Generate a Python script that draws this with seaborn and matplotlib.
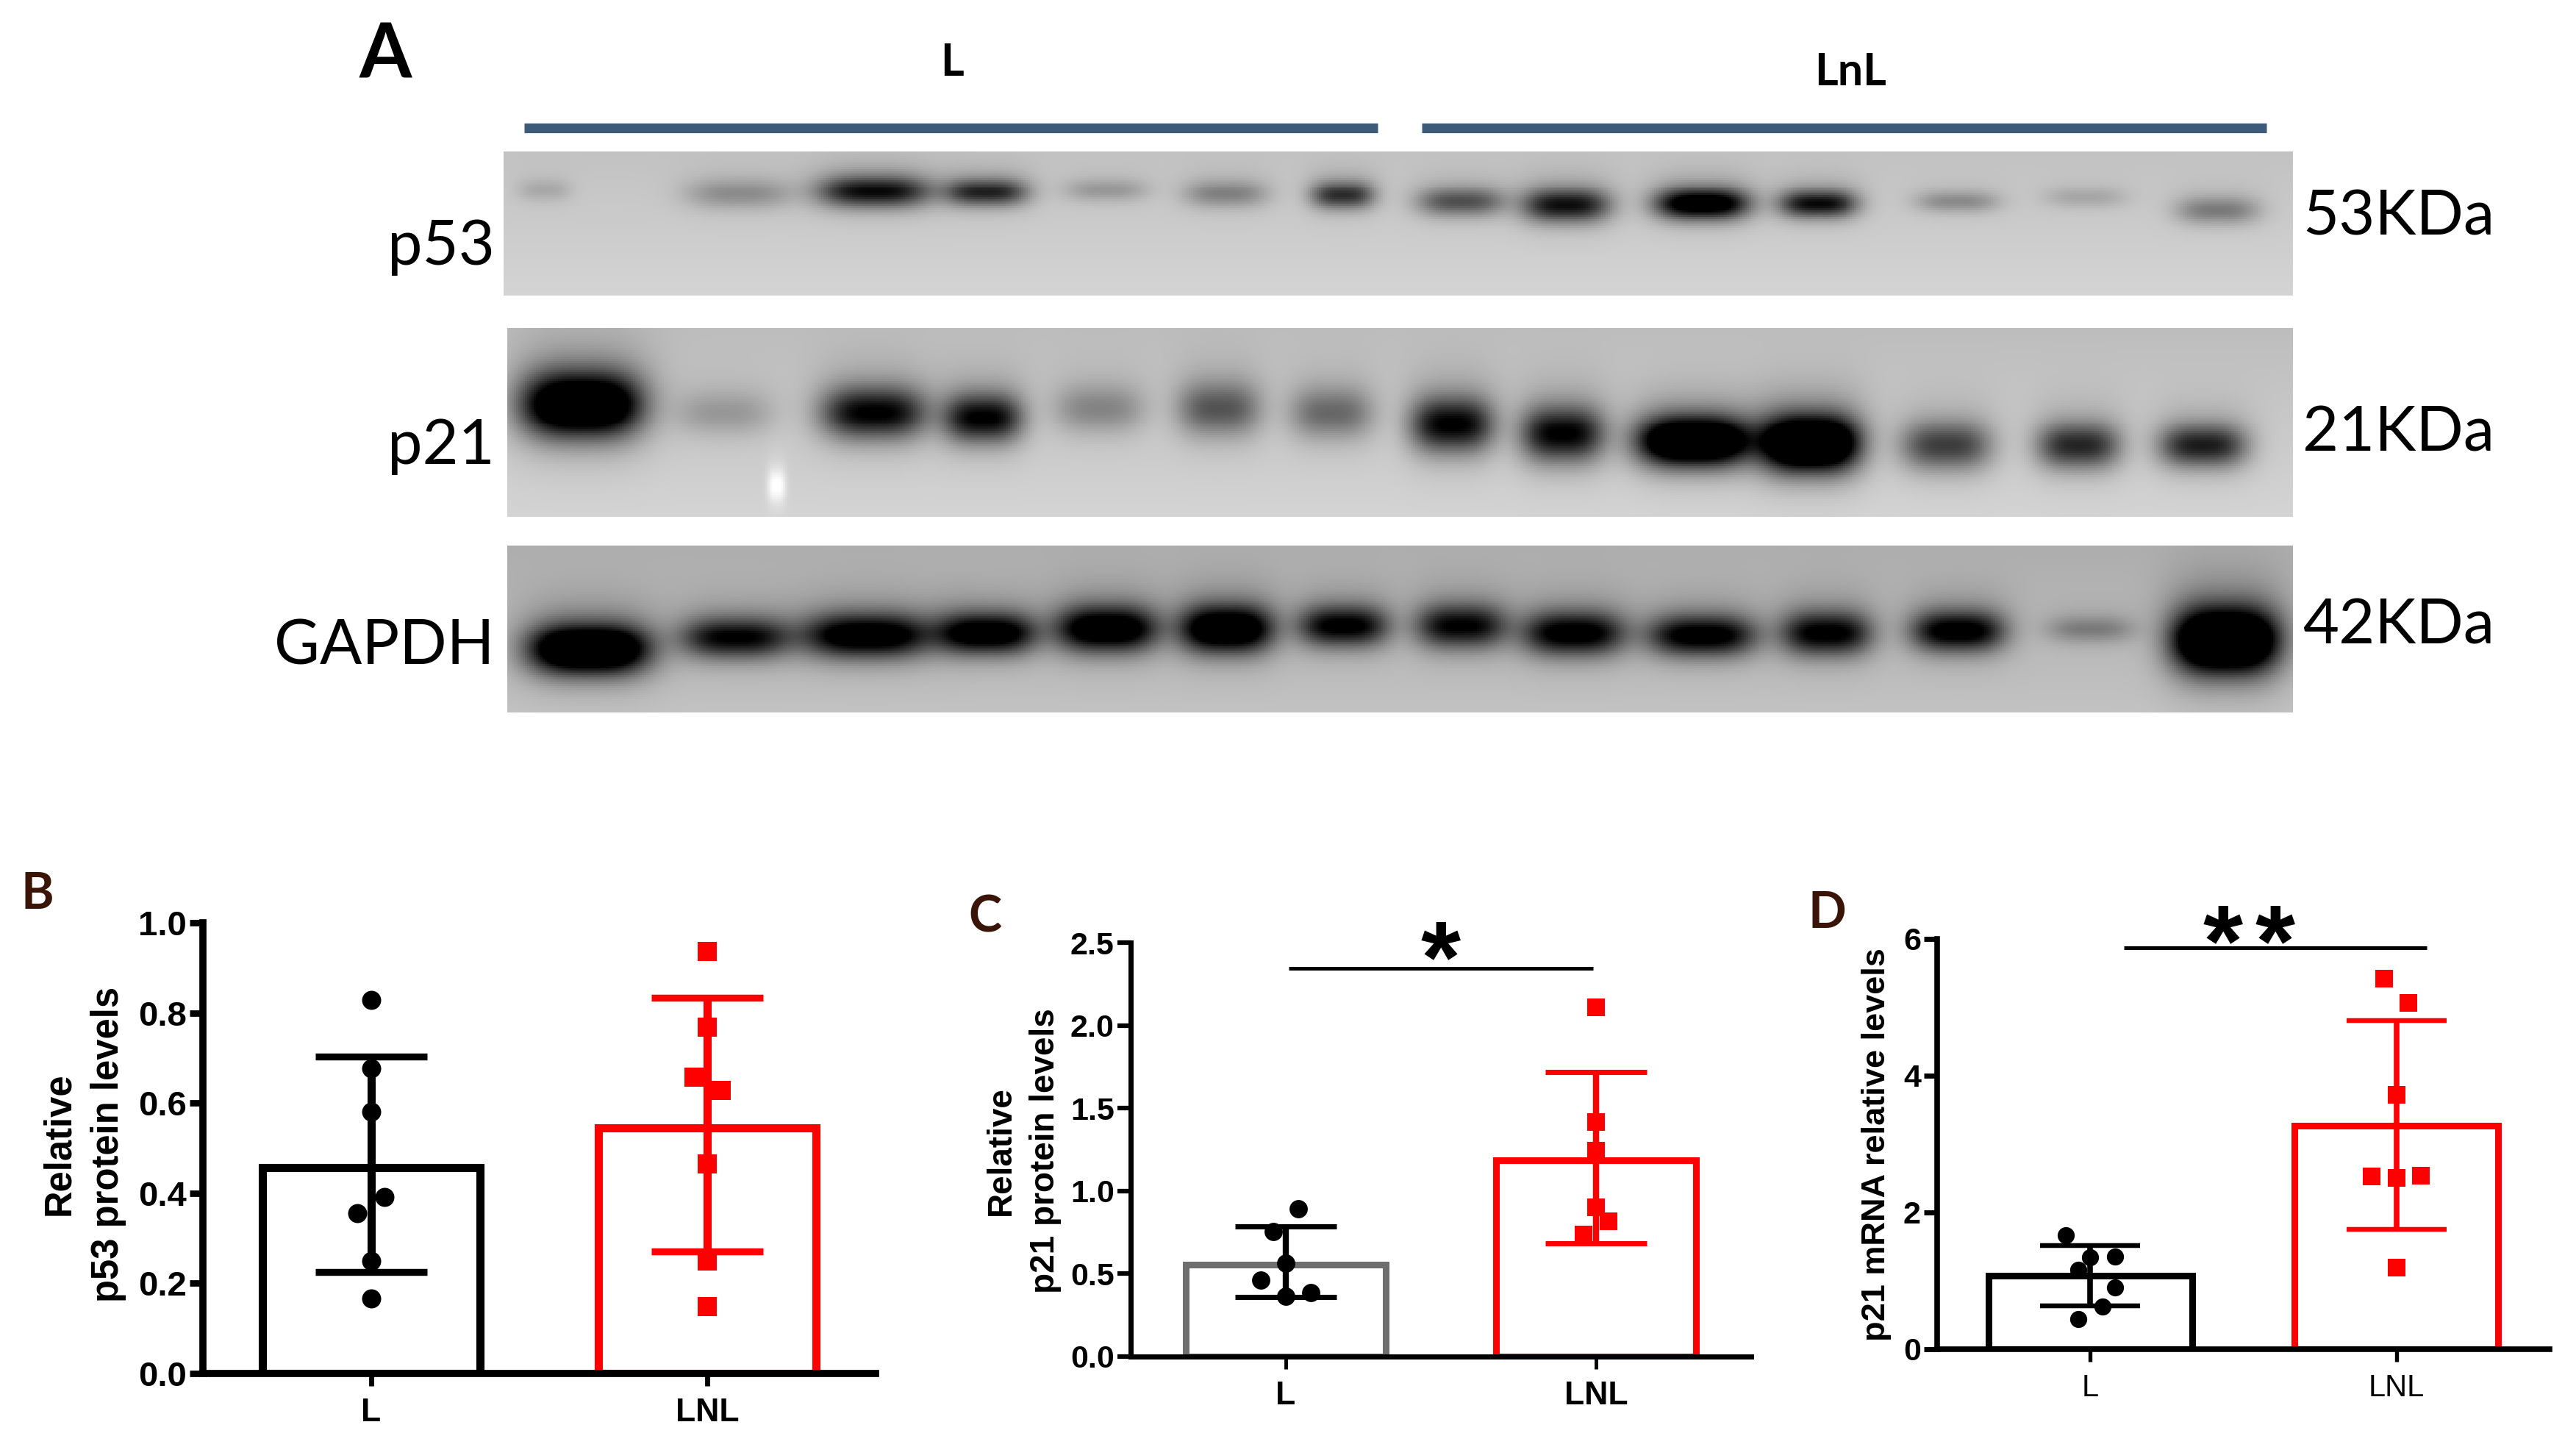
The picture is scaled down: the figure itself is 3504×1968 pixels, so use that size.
import numpy as np
import pandas as pd
import matplotlib
matplotlib.use('Agg')
import matplotlib.pyplot as plt
import seaborn as sns

W, H = 3505, 1968
DPI = 100

groups = ['L', 'LNL']

# panel B - p53 protein
b_l_vals = [0.828, 0.677, 0.58, 0.392, 0.355, 0.25, 0.166]
b_l_off = [0, 0, 0, 0.04, -0.04, 0, 0]
b_lnl_vals = [0.937, 0.769, 0.657, 0.628, 0.465, 0.25, 0.149]
b_lnl_off = [0, 0, -0.04, 0.04, 0, 0, 0]
b_means = [0.457, 0.545]
b_err_top = [0.703, 0.833]
b_err_bot = [0.225, 0.27]
b_ticks = [0.0, 0.2, 0.4, 0.6, 0.8, 1.0]

# panel C - p21 protein
c_l_vals = [0.894, 0.754, 0.564, 0.464, 0.364, 0.388]
c_l_off = [0.04, -0.04, 0, -0.08, 0, 0.08]
c_lnl_vals = [2.108, 1.416, 1.242, 0.90, 0.817, 0.736]
c_lnl_off = [0, 0, 0, 0, 0.04, -0.04]
c_means = [0.557, 1.186]
c_err_top = [0.787, 1.718]
c_err_bot = [0.36, 0.685]
c_ticks = [0.0, 0.5, 1.0, 1.5, 2.0, 2.5]

# panel D - p21 mRNA
d_l_vals = [1.67, 1.34, 1.35, 1.165, 0.90, 0.62, 0.44]
d_l_off = [-0.08, 0, 0.08, -0.04, 0.08, 0.04, -0.04]
d_lnl_vals = [5.42, 5.06, 3.72, 2.53, 2.51, 2.54, 1.19]
d_lnl_off = [-0.04, 0.04, 0, -0.08, 0, 0.08, 0]
d_means = [1.07, 3.266]
d_err_top = [1.513, 4.81]
d_err_bot = [0.633, 1.753]
d_ticks = [0, 2, 4, 6]

# western blot bands: lane centre, row, half width, half height, darkness (all in image pixels)
p53_x = [739, 1004, 1188, 1341, 1504, 1667, 1826, 1987, 2130, 2315, 2473, 2663, 2837, 3017]
p53_y = [258, 263, 260, 261, 258, 263, 265, 274, 279, 277, 277, 274, 268, 286]
p53_w = [35, 70, 75, 55, 55, 55, 42, 58, 58, 62, 52, 55, 55, 55]
p53_h = [15, 20, 21, 18, 15, 18, 18, 19, 22, 20, 18, 14, 14, 18]
p53_d = [0.13, 0.25, 0.8, 0.7, 0.2, 0.3, 0.65, 0.5, 0.78, 1.05, 0.8, 0.26, 0.14, 0.33]

p21_x = [790, 984, 1188, 1336, 1494, 1657, 1810, 1975, 2125, 2304, 2462, 2647, 2827, 2996, 1055]
p21_y = [550, 561, 561, 568, 555, 555, 561, 577, 590, 600, 603, 606, 606, 606, 660]
p21_w = [80, 65, 70, 52, 60, 55, 55, 55, 55, 75, 65, 60, 55, 58, 12]
p21_h = [42, 30, 34, 32, 32, 36, 34, 36, 36, 32, 36, 32, 30, 28, 22]
p21_d = [1.3, 0.2, 0.85, 0.85, 0.28, 0.48, 0.4, 0.85, 0.85, 1.4, 1.5, 0.58, 0.68, 0.72, -0.2]

gapdh_x = [800, 999, 1178, 1341, 1504, 1667, 1826, 1987, 2140, 2315, 2484, 2663, 2843, 3027]
gapdh_y = [883, 867, 864, 861, 855, 855, 851, 851, 861, 864, 861, 858, 855, 871]
gapdh_w = [80, 72, 85, 65, 68, 62, 60, 60, 68, 72, 60, 62, 58, 70]
gapdh_h = [32, 27, 29, 27, 30, 31, 27, 29, 29, 27, 29, 27, 18, 42]
gapdh_d = [1.4, 0.85, 1.05, 1.05, 1.1, 1.2, 0.9, 0.85, 0.95, 0.95, 0.9, 0.95, 0.28, 1.6]

sns.set_style('white')
plt.rcParams['font.family'] = ['Liberation Sans', 'DejaVu Sans']
plt.rcParams['text.color'] = 'black'
plt.rcParams['xtick.color'] = 'black'
plt.rcParams['ytick.color'] = 'black'
plt.rcParams['axes.edgecolor'] = 'black'

fig = plt.figure(figsize=(W / DPI, H / DPI), dpi=DPI, facecolor='white')


def px_axes(left, top, right, bottom):
    return fig.add_axes([left / W, 1 - bottom / H, (right - left) / W, (bottom - top) / H])


def px_text(x, y, s, **kw):
    fig.text(x / W, 1 - y / H, s, **kw)


def draw_blot(left, top, right, bottom, bg, xs, ys, ws, hs, ds):
    ax = px_axes(left, top, right, bottom)
    step = 3
    gx = np.arange(left, right, step)
    gy = np.arange(top, bottom, step)
    xx, yy = np.meshgrid(gx, gy)
    dark = np.zeros_like(xx, dtype=float)
    for x, y, w, h, d in zip(xs, ys, ws, hs, ds):
        core = np.exp(-(np.abs(xx - x) / w) ** 3 - ((yy - y) / h) ** 2)
        halo = np.exp(-(np.abs(xx - x) / (w * 1.2)) ** 3 - ((yy - y + h * 0.4) / (h * 1.8)) ** 2)
        dark += d * core + 0.22 * d * halo
    back = np.linspace(bg[0], bg[1], len(gy))[:, None]
    img = np.clip(back * (1 - dark), 0, 1)
    sns.heatmap(img, ax=ax, cmap='gray', vmin=0, vmax=1, cbar=False,
                xticklabels=False, yticklabels=False, linewidths=0)
    ax.set_xlabel('')
    ax.set_ylabel('')


def bar_panel(box, means, err_top, err_bot, l_vals, l_off, lnl_vals, lnl_off, ticks, ymax,
              l_edge, lw, err_lw, cap, dot, square, bar_width, spine_lw, ylabel, label_xy,
              ylabel_size, tick_size, spacing=1.45, x_weight='bold', x_size=32):
    ax = px_axes(*box)
    sns.barplot(x=groups, y=means, hue=groups, palette=[l_edge, '#ff0000'], fill=False,
                errorbar=None, width=bar_width, linewidth=lw, saturation=1, legend=False, ax=ax)
    for i, col in enumerate(['black', '#ff0000']):
        ax.errorbar([i], [means[i]],
                    yerr=[[means[i] - err_bot[i]], [err_top[i] - means[i]]],
                    color=col, elinewidth=err_lw, capsize=cap, capthick=err_lw * 0.85, zorder=4)
    pts_l = pd.DataFrame({'x': 0 + np.array(l_off), 'y': l_vals})
    pts_n = pd.DataFrame({'x': 1 + np.array(lnl_off), 'y': lnl_vals})
    sns.scatterplot(data=pts_l, x='x', y='y', color='black', marker='o', s=dot,
                    linewidth=0, ax=ax, zorder=5)
    sns.scatterplot(data=pts_n, x='x', y='y', color='#ff0000', marker='s', s=square,
                    linewidth=0, ax=ax, zorder=5)
    ax.set_xlim(-0.5, 1.5)
    ax.set_ylim(0, ymax)
    ax.set_xticks([0, 1])
    ax.set_xticklabels(groups, fontsize=x_size, fontweight=x_weight)
    ax.set_yticks(ticks)
    ax.set_yticklabels([f'{t}' for t in ticks], fontsize=tick_size, fontweight='bold')
    ax.tick_params(axis='y', length=13, width=spine_lw * 0.9, pad=3, left=True)
    ax.tick_params(axis='x', length=12, width=spine_lw * 0.7, pad=12, bottom=True)
    sns.despine(ax=ax)
    ax.spines['left'].set_linewidth(spine_lw)
    ax.spines['bottom'].set_linewidth(spine_lw)
    ax.patch.set_alpha(0)
    ax.set_xlabel('')
    ax.set_ylabel('')
    px_text(label_xy[0], label_xy[1], ylabel, rotation=90, ha='center', va='center',
            multialignment='center', fontsize=ylabel_size, fontweight='bold', linespacing=spacing)
    return ax


def sig(ax, x0, x1, y, star_xs, star_y, size):
    ax.plot([x0, x1], [y, y], color='black', lw=3.6, clip_on=False, solid_capstyle='butt')
    for sx in star_xs:
        ax.text(sx, star_y, '*', ha='center', va='center', fontsize=size, fontweight='bold',
                clip_on=False, color='black')


# top panel: blots
draw_blot(685, 206, 3119, 402, (0.76, 0.83), p53_x, p53_y, p53_w, p53_h, p53_d)
draw_blot(690, 446, 3119, 703, (0.74, 0.83), p21_x, p21_y, p21_w, p21_h, p21_d)
draw_blot(690, 742, 3119, 969, (0.68, 0.76), gapdh_x, gapdh_y, gapdh_w, gapdh_h, gapdh_d)

line_ax = px_axes(0, 0, W, H)
line_ax.set_axis_off()
line_ax.set_xlim(0, W)
line_ax.set_ylim(H, 0)
line_ax.plot([713, 1874], [174, 174], color='#3d5a78', lw=9.5, solid_capstyle='butt')
line_ax.plot([1934, 3083], [174, 174], color='#3d5a78', lw=9.5, solid_capstyle='butt')

blot_font = ['Lato', 'DejaVu Sans']
for txt, base in zip(['p53', 'p21', 'GAPDH'], [360, 631, 904]):
    px_text(673, base, txt, ha='right', va='baseline', fontsize=61, family=blot_font)
for txt, base in zip(['53KDa', '21KDa', '42KDa'], [319, 614, 875]):
    px_text(3132, base, txt, ha='left', va='baseline', fontsize=61, family=blot_font)

px_text(1295, 85, 'L', ha='center', va='center', fontsize=44, fontweight='bold', family=blot_font)
px_text(2517, 98, 'LnL', ha='center', va='center', fontsize=44, fontweight='bold', family=blot_font)
px_text(524, 75, 'A', ha='center', va='center', fontsize=74, fontweight='bold', family=blot_font)

brown = '#3b1408'
px_text(51, 1217, 'B', ha='center', va='center', fontsize=49, fontweight='bold', color=brown, family=blot_font)
px_text(1340, 1248, 'C', ha='center', va='center', fontsize=49, fontweight='bold', color=brown, family=blot_font)
px_text(2485, 1242, 'D', ha='center', va='center', fontsize=49, fontweight='bold', color=brown, family=blot_font)

# bottom panels
ax_b = bar_panel((276, 1255, 1191, 1868), b_means, b_err_top, b_err_bot,
                 b_l_vals, b_l_off, b_lnl_vals, b_lnl_off, b_ticks, 1.0,
                 'black', 8, 8, 55, 350, 370, 0.646, 7,
                 'Relative\np53 protein levels', (114, 1556), 36.5, 34)

ax_c = bar_panel((1538, 1282, 2382, 1845), c_means, c_err_top, c_err_bot,
                 c_l_vals, c_l_off, c_lnl_vals, c_lnl_off, c_ticks, 2.5,
                 '#6e6e6e', 6.5, 6, 50, 320, 320, 0.644, 5,
                 'Relative\np21 protein levels', (1392, 1565), 33, 31, spacing=1.5)
sig(ax_c, 0.009, 0.99, 2.344, [0.5], 2.36, 100)

ax_d = bar_panel((2635, 1277, 3468, 1835), d_means, d_err_top, d_err_bot,
                 d_l_vals, d_l_off, d_lnl_vals, d_lnl_off, d_ticks, 6,
                 'black', 6.5, 5.5, 49, 280, 310, 0.666, 5.5,
                 'p21 mRNA relative levels', (2553, 1557), 32.5, 31,
                 x_weight='normal', x_size=30)
sig(ax_d, 0.11, 1.098, 5.87, [0.434, 0.603], 5.85, 100)

fig.savefig('out.png', dpi=DPI, facecolor='white')
